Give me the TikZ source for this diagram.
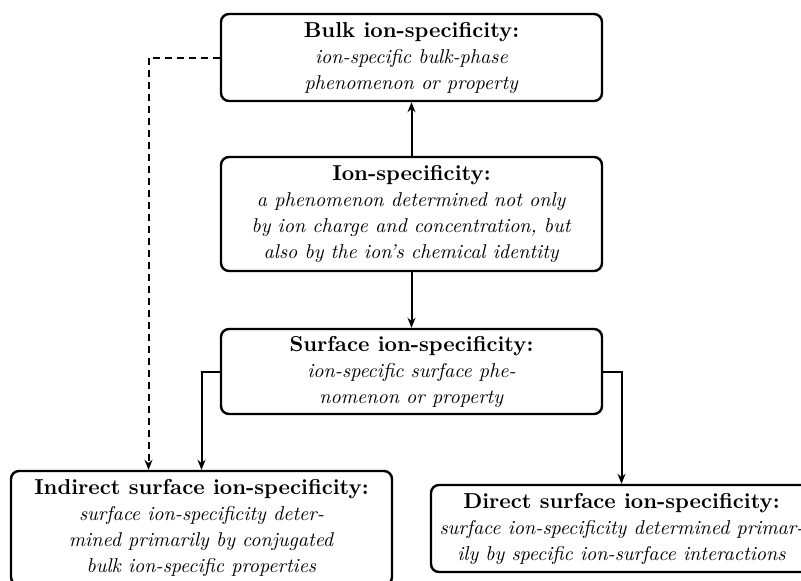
\documentclass[tikz,border=0pt]{standalone}
\usetikzlibrary{arrows.meta}
\begin{document}
\begin{tikzpicture}[x=0.5pt,y=-0.5pt,
  box/.style={draw, line width=1.2pt, rounded corners=4pt, minimum width=190.5pt, align=center, inner sep=0pt, font=\fontsize{10}{13}\selectfont},
  ttl/.style={},
  conn/.style={line width=1pt, -{Stealth[length=5pt,width=4pt]}},
  dconn/.style={conn, dash pattern=on 3.5pt off 2.5pt}]
\newcommand{\ttlfont}{\fontsize{10.8}{13}\selectfont\bfseries}
\clip (0,0) rectangle (801,580);
\useasboundingbox (0,0) rectangle (801,580);
\node[box, minimum height=43.5pt] (bulk) at (411.5,57.5) {{\ttlfont Bulk ion-specificity:}\\ \textit{ion-specific bulk-phase}\\ \textit{phenomenon or property}};
\node[box, minimum height=57pt] (ion) at (411.5,214) {{\ttlfont Ion-specificity:}\\ \textit{a phenomenon determined not only}\\ \textit{by ion charge and concentration, but}\\ \textit{also by the ion's chemical identity}};
\node[box, minimum height=42.5pt] (surf) at (411.5,371.5) {{\ttlfont Surface ion-specificity:}\\ \textit{ion-specific surface phe-}\\ \textit{nomenon or property}};
\node[box, minimum height=57pt] (ind) at (201.5,528) {{\ttlfont Indirect surface ion-specificity:}\\ \textit{surface ion-specificity deter-}\\ \textit{mined primarily by conjugated}\\ \textit{bulk ion-specific properties}};
\node[box, minimum height=43.5pt] (dir) at (621.5,528.5) {{\ttlfont Direct surface ion-specificity:}\\ \textit{surface ion-specificity determined primar-}\\ \textit{ily by specific ion-surface interactions}};
\coordinate (dend) at ([xshift=-26.5pt]ind.north);
\draw[conn] (ion) -- (bulk);
\draw[conn] (ion) -- (surf);
\draw[conn] (surf.west) -- ++(-19,0) -| (ind.north);
\draw[conn] (surf.east) -| (dir.north);
\draw[dconn] (bulk.west) -| (dend);
\end{tikzpicture}
\end{document}
